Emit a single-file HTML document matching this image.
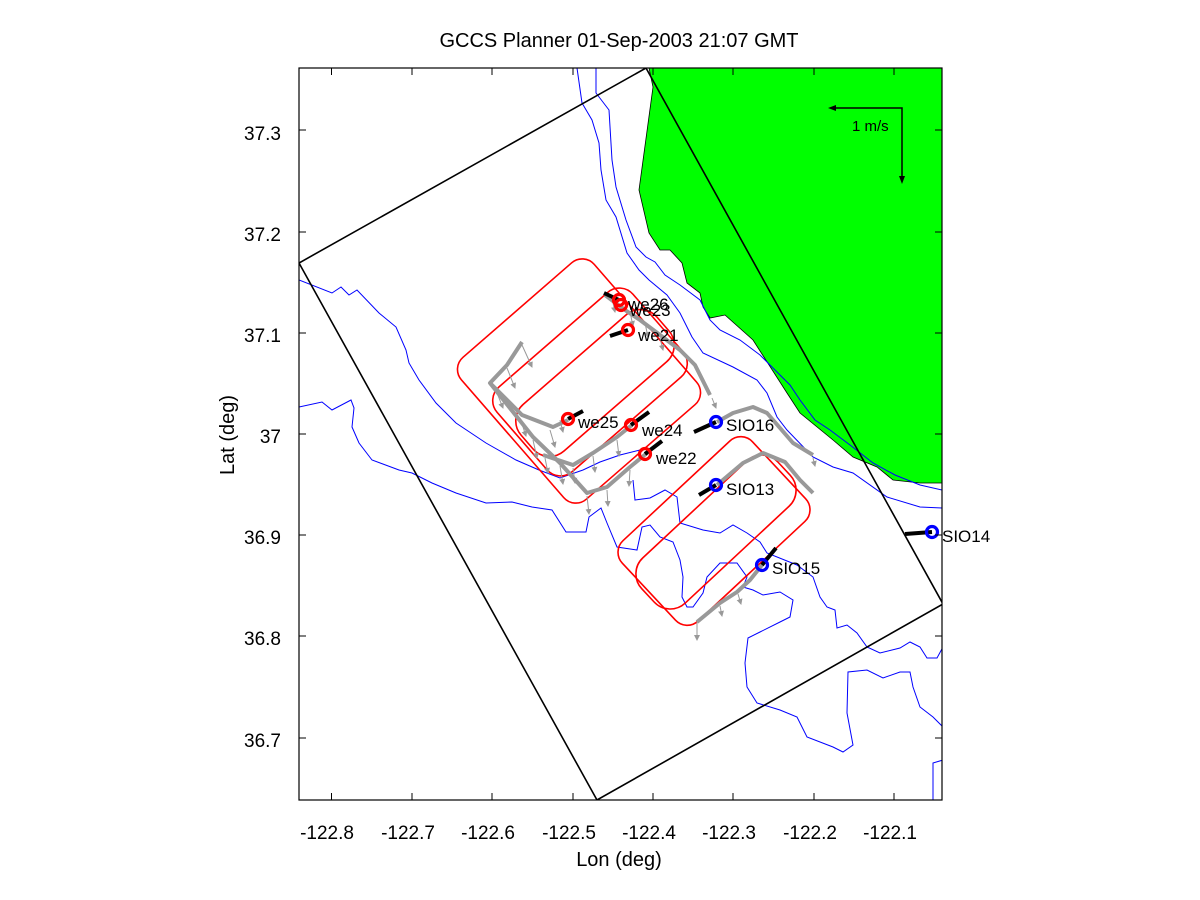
<!DOCTYPE html>
<html><head><meta charset="utf-8"><style>
html,body{margin:0;padding:0;background:#fff;}
svg{display:block;font-family:"Liberation Sans",sans-serif;}
</style></head><body>
<svg width="1200" height="900" viewBox="0 0 1200 900" xmlns="http://www.w3.org/2000/svg">
<defs>
<clipPath id="c"><rect x="299" y="68" width="643" height="732"/></clipPath>
<marker id="ah" markerWidth="6" markerHeight="6" refX="5" refY="3" orient="auto" markerUnits="userSpaceOnUse"><path d="M0,0L6,3L0,6z" fill="#999"/></marker>
</defs>
<rect width="1200" height="900" fill="#fff"/>
<g clip-path="url(#c)">
<polygon fill="#00ff00" stroke="#000" stroke-width="0.8" points="649,68 942,68 942,483 920,483 893,480 877,467 853,457 833,440 800,413 787,393 753,340 725,315 710,318 703,307 700,293 687,283 682,263 670,250 660,250 649,233 639,190 653,87"/>
<g fill="none" stroke="#0000ff" stroke-width="1">
<polyline points="299,280 332,293 341,287 349,295 357,290 379,313 396,327 406,350 409,363 419,380 436,403 456,423 486,443 516,460 539,470 560,478 583,470 600,462 620,455 640,450"/>
<polyline points="299,407 322,402 332,410 351,400 354,408 352,427 359,443 372,460 399,470 412,473 432,483 456,493 486,503 512,502 532,507 552,510 566,532 586,532 589,517 601,508 607,523 617,547 637,550 642,527 650,525 660,537 673,542 680,560 683,577 682,597 687,607 693,607 703,593 707,577 720,563 737,563 747,577 743,587 753,590 763,595 780,592 793,600 790,617 780,622 760,632 748,638 745,663 747,687 757,703 780,710 797,717 807,737 833,747 843,752 853,745 847,713 848,672 867,670 883,678 900,672 910,672 913,687 920,707 933,717 943,727"/>
<polyline points="633,480 635,500 650,498 665,490 677,497 680,523 703,530 720,533 733,525 747,533 760,542 767,553 797,565 813,577 820,597 827,607 835,610 837,628 847,625 857,633 867,647 880,653 900,648 910,642 920,647 927,658 937,658 943,647"/>
<polyline points="943,760 933,763 933,800"/>
<polyline points="577,68 582,103 592,120 599,143 601,170 606,200 616,217 627,253 639,270 649,280 667,295 680,313 692,337 703,353 733,367 757,380 767,393 777,417 787,430 813,457 833,467 853,473 887,497 920,507 942,508"/>
<polyline points="596,68 596,93 609,110 612,160 616,187 626,220 636,247 646,257 655,262 665,275 680,285 700,300 710,320 720,330 740,340 760,355 775,370 790,385 800,400 815,420 830,430 850,445 873,463 895,475 920,485 942,490"/>
</g>
<polygon fill="none" stroke="#000" stroke-width="1.6" points="299,263 646,68 943,604 597,800"/>
<g fill="none" stroke="#ff0000" stroke-width="1.6">
<rect x="-88" y="-94" width="176" height="188" rx="16" transform="translate(579,381) rotate(-41)"/>
<rect x="-90" y="-56" width="180" height="112" rx="18" transform="translate(590,382) rotate(-41)"/>
<rect x="-90" y="-31" width="180" height="62" rx="22" transform="translate(595,383) rotate(-41)"/>
<rect x="-89" y="-55" width="178" height="110" rx="16" transform="translate(714,531) rotate(-43)"/>
<rect x="-93" y="-31" width="186" height="62" rx="22" transform="translate(716,532) rotate(-43)"/>
</g>
<g fill="none" stroke="#999" stroke-width="4" stroke-linejoin="round">
<polyline points="605,295 625,310 640,320 660,335 680,350 695,365 705,385 710,395"/>
<polyline points="522,342 507,365 490,383 522,415 553,427 568,420"/>
<polyline points="490,383 533,437 560,463 587,493 607,487 630,467 647,453"/>
<polyline points="543,455 573,465 593,453 617,437 632,425"/>
<polyline points="717,422 733,413 753,407 767,413 793,443 813,455"/>
<polyline points="717,485 743,463 763,453 785,462 800,480 813,493"/>
<polyline points="762,565 750,580 737,592 720,603 697,622"/>
</g>
<g stroke="#999" stroke-width="1" fill="none" marker-end="url(#ah)">
<path d="M522,345l10,22"/><path d="M507,368l8,20"/><path d="M495,388l8,20"/><path d="M520,418l6,18"/><path d="M550,430l5,17"/><path d="M533,440l4,18"/><path d="M560,466l3,18"/><path d="M587,496l2,18"/><path d="M607,490l1,16"/><path d="M630,470l-1,16"/><path d="M573,468l2,15"/><path d="M593,456l2,16"/><path d="M617,440l2,16"/><path d="M545,458l3,15"/><path d="M612,298l3,14"/><path d="M630,312l3,14"/><path d="M645,323l3,14"/><path d="M660,338l3,12"/><path d="M697,622l0,18"/><path d="M720,606l2,10"/><path d="M813,458l2,8"/><path d="M712,398l4,10"/><path d="M560,420l3,12"/><path d="M738,594l3,10"/>
</g>
<g stroke="#000" stroke-width="4">
<line x1="619" y1="300" x2="604" y2="293"/>
<line x1="628" y1="330" x2="610" y2="336"/>
<line x1="568" y1="419" x2="583" y2="411"/>
<line x1="631" y1="425" x2="649" y2="412"/>
<line x1="645" y1="454" x2="662" y2="441"/>
<line x1="716" y1="422" x2="694" y2="432"/>
<line x1="716" y1="485" x2="699" y2="495"/>
<line x1="762" y1="565" x2="776" y2="548"/>
<line x1="932" y1="532" x2="905" y2="534"/>
</g>
<g fill="none" stroke-width="3.2">
<circle cx="619" cy="300" r="5.5" stroke="#f00"/>
<circle cx="621" cy="305" r="5.5" stroke="#f00"/>
<circle cx="628" cy="330" r="5.5" stroke="#f00"/>
<circle cx="568" cy="419" r="5.5" stroke="#f00"/>
<circle cx="631" cy="425" r="5.5" stroke="#f00"/>
<circle cx="645" cy="454" r="5.5" stroke="#f00"/>
<circle cx="716" cy="422" r="5.5" stroke="#00f"/>
<circle cx="716" cy="485" r="5.5" stroke="#00f"/>
<circle cx="762" cy="565" r="5.5" stroke="#00f"/>
<circle cx="932" cy="532" r="5.5" stroke="#00f"/>
</g>
<g stroke="#000" stroke-width="1.5" fill="none"><polyline points="832,108 902,108 902,180"/></g>
<polygon points="828,108 836,105 836,111" fill="#000"/>
<polygon points="902,184 899,176 905,176" fill="#000"/>
<text x="852" y="131" font-size="15">1 m/s</text>
</g>
<g font-size="17" fill="#000">
<text x="628" y="310">we26</text>
<text x="630" y="316">we23</text>
<text x="638" y="341">we21</text>
<text x="578" y="428">we25</text>
<text x="642" y="436">we24</text>
<text x="656" y="464">we22</text>
<text x="726" y="431">SIO16</text>
<text x="726" y="495">SIO13</text>
<text x="772" y="574">SIO15</text>
<text x="942" y="542">SIO14</text>
</g>
<rect x="299" y="68" width="643" height="732" fill="none" stroke="#000" stroke-width="1.2"/>
<g stroke="#000" stroke-width="1">
<path d="M331.5,800v-7M412,800v-7M492,800v-7M573,800v-7M653,800v-7M733,800v-7M814,800v-7M894,800v-7"/>
<path d="M331.5,68v7M412,68v7M492,68v7M573,68v7M653,68v7M733,68v7M814,68v7M894,68v7"/>
<path d="M299,130h7M299,232h7M299,333h7M299,434h7M299,535h7M299,636h7M299,738h7"/>
<path d="M942,130h-7M942,232h-7M942,333h-7M942,434h-7M942,535h-7M942,636h-7M942,738h-7"/>
</g>
<g font-size="19" text-anchor="middle" fill="#000">
<text x="327" y="839">-122.8</text>
<text x="408" y="839">-122.7</text>
<text x="488" y="839">-122.6</text>
<text x="569" y="839">-122.5</text>
<text x="649" y="839">-122.4</text>
<text x="729" y="839">-122.3</text>
<text x="810" y="839">-122.2</text>
<text x="890" y="839">-122.1</text>
</g>
<g font-size="19" text-anchor="end" fill="#000">
<text x="281" y="140">37.3</text>
<text x="281" y="241">37.2</text>
<text x="281" y="342">37.1</text>
<text x="281" y="443">37</text>
<text x="281" y="544">36.9</text>
<text x="281" y="645">36.8</text>
<text x="281" y="747">36.7</text>
</g>
<text x="619" y="866" font-size="20" text-anchor="middle">Lon (deg)</text>
<text x="0" y="0" font-size="20" text-anchor="middle" transform="translate(234,435) rotate(-90)">Lat (deg)</text>
<text x="619" y="47" font-size="20" text-anchor="middle">GCCS Planner 01-Sep-2003 21:07 GMT</text>
</svg>
</body></html>
